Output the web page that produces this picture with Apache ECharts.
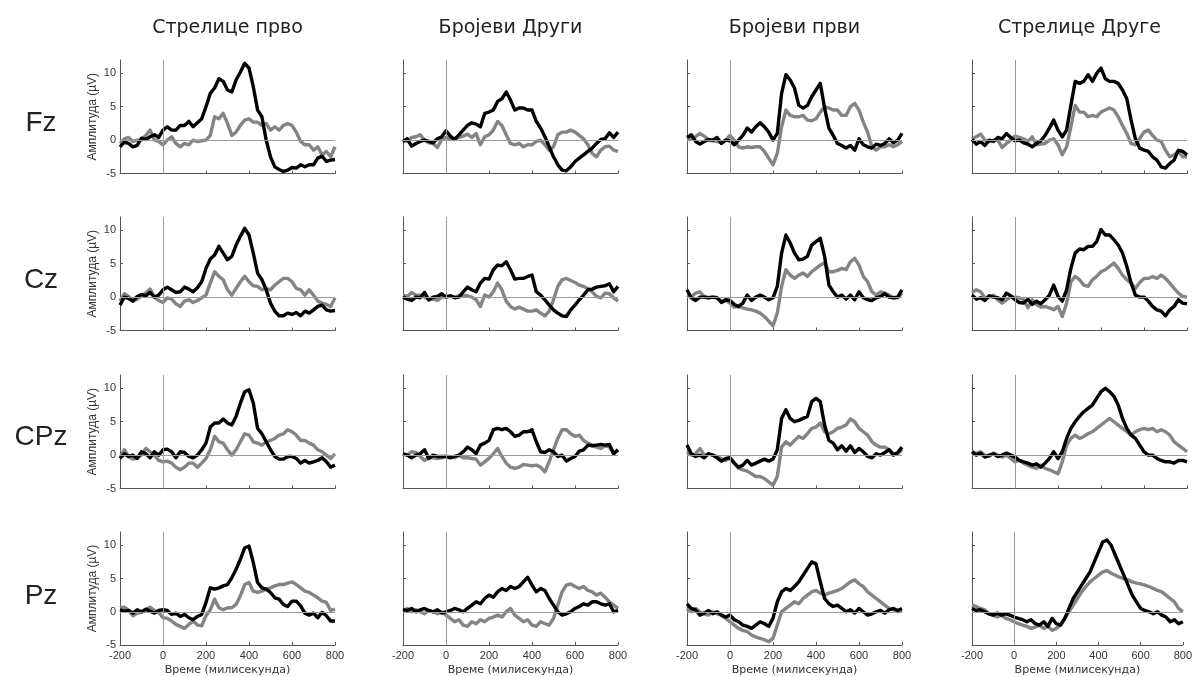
<!DOCTYPE html>
<html>
<head>
<meta charset="utf-8">
<script src="https://cdn.jsdelivr.net/npm/echarts@6/dist/echarts.min.js"></script>
<style>
html,body{margin:0;padding:0;background:#fff;}
#chart{width:1195px;height:677px;}
</style>
</head>
<body>
<div id="chart"></div>
<script>
// Time axis (ms), one sample every 20 ms
const times = [-200,-180,-160,-140,-120,-100,-80,-60,-40,-20,0,20,40,60,80,100,120,140,160,180,200,220,240,260,280,300,320,340,360,380,400,420,440,460,480,500,520,540,560,580,600,620,640,660,680,700,720,740,760,780,800];
const columnTitles = ['Стрелице прво','Бројеви Други','Бројеви први','Стрелице Друге'];
const rowLabels = ['Fz','Cz','CPz','Pz'];
const xTicks = [-200,0,200,400,600,800];
const yTicks = [-5,0,5,10];

// Fz
const fzC1Black = [-1,-0.3,-0.5,-1,-0.8,0.3,0.1,0.5,0.8,0.4,1.5,2,1.5,1.5,2.2,2.2,2.8,2,2.6,3.2,5,7,7.8,9.2,8.8,7.5,7.2,9,10.2,11.5,10.8,8,4.5,3.5,0,-2.5,-4,-4.4,-4.7,-4.5,-4.1,-4.2,-3.7,-4,-3.7,-3.7,-2.7,-2.4,-3.2,-3,-2.9];
const fzC1Gray = [-0.5,0.2,0.4,-0.2,0,0,0.7,1.5,0,-0.2,-0.7,0,0.5,-0.5,-1,-0.5,-0.7,0,-0.2,-0.1,0,0.7,3.5,3.2,4,2.5,0.7,1.2,2.2,3,3.2,2.7,2.7,2.2,2.5,1.5,2,1.5,2.2,2.5,2.2,1.2,-0.2,-0.7,-0.7,-1.5,-1,-2.2,-1.7,-2.5,-1];
const fzC2Black = [-0.2,0.2,-0.9,-0.5,-0.2,0,-0.2,-0.4,0.2,0.5,1.4,0.6,0.1,0.8,1.5,2.2,2.6,2.4,2,4,4.2,4.5,5.8,6.2,7.2,6,4.5,4.8,4.8,4.5,4.5,2.8,1.8,0.5,-1,-2.5,-3.7,-4.5,-4.6,-4,-3.2,-2.7,-2.2,-1.7,-1.2,-0.5,0.1,0.2,1.1,0.4,1.2];
const fzC2Gray = [0,-0.2,0.4,0.5,0.8,0,-0.4,-0.5,-1.1,0.1,0.4,0.2,0.2,0.4,0.6,0.9,0.4,1,-0.7,0.5,0.8,1.5,2.8,2.2,0.8,-0.5,-0.7,-0.5,-1,-0.7,-0.7,-0.2,0,-0.7,-1.5,-1,0.8,1.2,1.2,1.5,1.2,0.7,0.2,-0.7,-2,-2.5,-1.5,-1,-0.9,-1.5,-1.7];
const fzC3Black = [0.4,0.8,-0.2,-0.6,-0.2,0.1,0,0.4,-0.5,0,-0.1,-0.7,0,0.7,1.8,1.2,2,2.6,2,1.2,0,1,7,9.8,9,7.8,5.2,4.8,5.2,6.5,7.5,8.5,4.8,1.8,0.7,-0.5,-0.8,-1.2,-0.8,-1.5,0.2,-0.7,-1,-1.2,-0.6,-0.8,-0.5,0.2,-0.4,0,1];
const fzC3Gray = [0.2,0.2,0.5,1,0.6,0,-0.1,-0.2,-0.4,0,0.7,0,-1,-1.2,-1,-1.1,-1,-1,-1.7,-2.7,-3.7,-2,2,4.5,3.7,3.5,3.5,3.7,3,2.9,3.2,4.2,5,4.8,4.5,4.5,3.7,3.7,5,5.5,4.5,2.7,1.2,-1,-1.5,-1,-1,-0.7,-1,-0.7,-0.2];
const fzC4Black = [0.1,-0.6,-0.2,-0.8,0,-0.2,0.4,0.2,1,0.4,-0.1,0,-0.4,-0.6,-1,-0.5,-0.1,0.7,1.8,3,1.5,0.5,1.5,5.2,8.8,8.5,8.8,9.8,8.8,10,10.8,9.2,8.8,8.8,8.5,7.5,6.2,3,0.2,-1.2,-1.5,-1.7,-2.5,-3,-4,-4.2,-3.5,-3,-1.5,-1.7,-2.2];
const fzC4Gray = [0.2,0.5,0.9,0,-0.2,0,0,-1.1,-0.5,0,0.6,0.4,0.2,-0.2,0.5,-0.7,-0.6,-0.5,0,0.2,-0.7,-2.2,-1,2,5.2,4.2,4.2,3.5,3.7,3.5,4.2,4.5,4.8,4.5,3.5,2.2,1,-0.5,-0.7,0.2,1.2,1.5,0.7,0,-0.2,-1.5,-2.5,-2.2,-1.7,-2.5,-2.5];

// Cz
const czC1Black = [-1.2,0,-0.2,-0.6,0.1,0.4,0.2,0.7,0,0.3,1.1,1.5,1.1,0.7,0.8,1.5,1.2,0.8,1.4,2.3,4.3,5.7,6.3,7.6,6.6,5.6,6.1,7.8,9.1,10.3,9.3,6.6,3.6,2.6,1.1,-0.9,-2.1,-2.8,-2.8,-2.4,-2.6,-2.3,-2.8,-2.1,-2.4,-1.9,-1.4,-1.2,-1.9,-2.1,-2];
const czC1Gray = [-0.6,0.5,0.1,-0.6,-0.3,0.2,0.6,1.2,0,-0.5,-0.8,-0.1,-0.3,-1,-1.4,-0.6,-0.4,-0.8,-0.5,-0.1,0.3,2.1,3.8,3.1,2.6,1.1,0.3,1.3,2.3,3.1,2.3,1.7,1.6,1.1,1.3,1.1,1.8,2.3,2.8,2.8,2.3,1.3,1.1,0.3,1.1,0.3,-0.6,-0.9,-1.1,-1.4,-0.1];
const czC2Black = [0,-0.3,-0.5,0,-0.1,0.7,-0.4,0,0.1,0.5,0,0.2,-0.1,0,0.8,1.5,1.1,0.8,2.1,2.8,2.7,4.1,4.8,4.7,5.3,4.1,2.7,2.8,2.8,3.1,3.3,0.8,0.3,-0.4,-1.2,-1.9,-2.4,-2.8,-2.9,-1.9,-1.2,-0.4,0.3,1.1,1.2,1.5,1.6,1.7,2,0.8,1.6];
const czC2Gray = [0.3,0.1,0.7,0.3,0.3,0,-0.4,-0.3,-0.5,0,0,0.2,0,0.2,0.3,0.2,0,-0.4,-1.4,0.3,0,0.8,2.1,1.1,-0.6,-1.4,-1.8,-1.5,-1.8,-2.1,-2.1,-1.9,-2.4,-2.8,-2.1,-0.4,1.6,2.6,2.8,2.5,2.2,1.8,1.6,1.3,0.8,0.1,-0.1,0.6,0.5,-0.1,-0.6];
const czC3Black = [1.1,-0.1,-0.5,0,0,-0.1,0,-0.1,-0.8,-0.4,-0.5,-1.1,-1.4,-0.9,0.3,-0.5,0,0.3,0,-0.4,-0.1,1.6,6.6,9.3,8.1,6.6,5.6,5.7,6.1,7.8,8.3,8.8,6.1,1.8,0.8,0,0.3,-0.3,0.3,-0.4,0.8,-0.1,-0.4,-0.5,-0.1,0.1,0.5,0,-0.1,0,1.1];
const czC3Gray = [0.3,0,0.6,0.8,0.1,-0.1,0,-0.1,-0.6,-0.5,-0.9,-1.5,-1.4,-1.6,-1.8,-1.9,-2.1,-2.4,-2.9,-3.6,-4.3,-2.4,1.6,4.1,3.3,2.8,3.3,3.6,3.1,3.8,4.3,4.8,5.1,3.8,3.8,4,4.3,4.1,5.3,5.8,4.8,3.1,2.3,0.8,0.3,0.8,0.6,0.3,-0.1,-0.1,0.6];
const czC4Black = [0.3,-0.3,-0.1,-0.5,0.2,0,-0.1,-0.4,0.6,0.2,-0.4,-0.8,-0.9,-0.3,-1.1,-0.6,-1,-0.4,0.3,1.8,0.1,-0.6,1.1,4.3,6.6,7.2,7.1,7.6,7.6,8.3,10.1,9.3,9.3,8.6,7.8,6.6,4.6,2.1,0.3,0,0,-0.6,-1.4,-1.9,-2.1,-2.8,-1.9,-1.4,-0.4,-0.9,-1];
const czC4Gray = [0.7,1.1,0.8,-0.1,0,0.3,-0.4,-0.9,-0.4,0,0,-0.1,-0.4,-1.6,-0.4,-1.1,-1.5,-1.4,-1.6,-1.9,-1.4,-2.9,-0.9,2.3,3.1,2.6,1.8,1.6,2.6,3.1,3.8,4.1,4.6,5.1,4.3,3.3,2.6,2.1,1.3,2.2,2.8,2.8,3.1,2.8,3.3,2.8,2.1,1.3,0.6,0.1,0];

// CPz
const cpzC1Black = [-0.5,0.2,-0.2,0,-0.5,0.5,0.2,-0.4,0.5,0,0.8,0.9,0.5,-0.4,0.5,0.4,-0.2,-0.4,0,0.8,1.8,4.2,4.8,4.8,5.4,4.8,4.5,5.8,7.8,9.5,9.8,7.8,4,3.2,2,0.8,-0.2,-0.6,-0.6,-0.2,-0.2,-0.5,-1.2,-0.8,-1.2,-1,-0.8,-0.4,-1,-1.8,-1.5];
const cpzC1Gray = [-0.4,0.8,-0.2,-0.6,-0.4,0,1,0.5,0,-0.8,-1,-0.9,-1.2,-1.8,-2.2,-1.8,-1.2,-1.2,-1.8,-1.2,-0.5,0.8,2.8,2,1.8,0.8,0,0.8,2,3.2,3,2,1.8,1.5,2,2.2,2.5,3,3.2,3.8,3.5,3,2.2,2.2,1.8,1.5,0.8,0.5,0,-0.5,0.2];
const cpzC2Black = [0.2,0,-0.4,0,0.2,0.8,-0.5,0,-0.2,-0.2,-0.2,-0.4,-0.2,0,0.5,1.2,0.8,0.2,1.5,1.8,2.2,3.8,4,3.8,4,3.5,2.8,3,3.5,3.5,3.8,2,0.5,0.4,0.8,0.5,-0.2,0,-0.9,-0.5,-0.2,0.6,0.8,1.5,1.4,1.5,1.6,1.5,1.6,0.2,0.8];
const cpzC2Gray = [0.2,0,0.5,0.4,-0.2,-0.8,-0.4,-0.4,-0.5,-0.4,-0.2,-0.2,-0.4,0,-0.4,-0.4,-0.5,-0.6,-1.5,-1,-0.5,0.2,1,-0.2,-1.2,-1.8,-2,-1.8,-1.4,-1.5,-1.6,-1.5,-1.8,-2.5,-1,0.8,2.5,3.8,3.8,3.2,2.8,3,2.2,1.8,1.5,1.2,1,1.4,1.2,0.2,0.8];
const cpzC3Black = [1.5,0.2,-0.2,0,-0.4,0.2,0,-0.4,-0.9,-0.5,-0.4,-1.2,-1.8,-1.5,-0.8,-1.5,-1.2,-0.9,-0.6,-0.9,-0.6,0.8,5.5,6.8,5.5,5,5.2,5.5,5.8,8,8.5,8,4.5,2.2,1.8,0.8,1.4,0.6,1.4,0.4,1,0.5,-0.2,-0.4,0.2,0,0.4,0.8,0,0.4,1.2];
const cpzC3Gray = [0.5,0,0.2,1,0,0.2,0,-0.2,-0.5,-0.8,-0.4,-1.2,-2,-2.2,-2.4,-2.8,-3.2,-3.2,-3.5,-4,-4.5,-3.2,1.2,2,1.5,2.2,2.8,2.5,3.2,4,4.2,4.8,3.5,3.2,3.5,4,4.2,4.5,5.4,5,4,3.5,3,2,1.5,1.2,1.2,0.8,0.2,0.2,0.8];
const cpzC4Black = [0.5,0,0.3,-0.3,0,0.2,-0.2,0,0.3,0,-0.3,-0.8,-1,-1.2,-1.5,-1.3,-1.8,-1.2,-0.5,0.5,-0.5,0.5,2.5,4,5,5.8,6.5,7,7.5,8.5,9.5,10,9.5,8.8,7.5,5.5,4,3,2.5,1.5,0.5,0,0,-0.5,-0.8,-1,-1,-1.2,-0.8,-0.8,-1];
const cpzC4Gray = [0.5,0.3,0.5,0,-0.2,0.3,0,-0.3,0,-0.5,-1,-0.8,-1.2,-1.5,-1.8,-2,-1.5,-2,-2.2,-2.5,-2.8,-1,1.5,2.5,3,2.5,2.8,3.2,3.5,4,4.5,5,5.5,5,4.5,4,3.5,3,3.5,3.8,4,3.8,4,3.5,3.8,3.5,3,2,1.5,1,0.5];

// Pz
const pzC1Black = [0.3,0.1,0.2,-0.2,0.3,0,0.4,0.1,-0.2,0.2,0.3,0.2,-0.4,-0.2,-0.7,-0.4,-0.9,-1.2,-0.7,-0.4,1.4,3.6,3.4,3.6,3.9,4.1,5.1,6.4,7.9,9.6,9.9,7.4,4.4,3.6,3.4,2.9,2.1,1.9,1.1,0.8,1.6,1.6,0.9,-0.2,-0.5,-0.2,-0.9,-0.1,-0.6,-1.4,-1.4];
const pzC1Gray = [0.6,0.7,0.2,-0.6,-0.2,-0.1,0.3,0.7,0.2,-0.1,-0.9,-1,-1.4,-1.9,-2.2,-2.5,-1.9,-1.4,-2,-2.1,-0.6,0.3,1.9,0.6,0.3,0.6,0.6,1.1,2.4,4.1,4.4,3.1,2.9,3.1,3.4,3.6,3.9,4.1,4.1,4.3,4.5,4.1,3.6,3.1,2.9,2.5,2.1,1.6,1.4,0.2,0.4];
const pzC2Black = [0.3,0.2,0.5,0,0.3,0.5,0.2,0,0.3,-0.2,0,0.2,0.5,0.3,0,0.5,1,1.5,1.2,2,2.5,2.2,3,3.5,3.2,3.8,3.5,3.8,4.5,5.2,4,3,3.5,3.2,2,1,0,-0.5,-0.3,0,0.5,0.8,1.2,1,1.5,1.5,1.2,1,1.2,0,0.2];
const pzC2Gray = [0.2,0.5,0,0.3,0,-0.3,0.2,0,-0.3,0,-0.5,-1,-1.5,-1.2,-2,-2.2,-1.5,-1.8,-1.2,-1.5,-1,-0.8,-0.5,-0.8,0,0.5,-0.5,-1,-1.5,-1.2,-2,-2.2,-1.5,-1.8,-2,-1,1,3,4,4.2,3.8,3.5,3.8,3.2,3,2.5,2.8,2.2,1.5,1,0.5];
const pzC3Black = [1.2,0.5,0.3,-0.5,-0.2,0.2,-0.3,0,-0.5,-0.8,-0.5,-1.2,-1.5,-2,-2.2,-2.5,-2,-1.5,-1.8,-2.2,-1,1.5,3,3.5,3.2,3.8,4.5,5.5,6.5,7.5,7.2,4.5,2,1.2,0.8,1,0.5,0,0.3,-0.2,0.5,0,-0.5,-0.3,0,0.2,-0.2,0.3,0.5,0.2,0.5];
const pzC3Gray = [0.5,0,0.5,0,-0.3,-0.5,0,-0.3,-0.5,-1,-1.5,-2,-2.5,-2.8,-3,-3.5,-3.8,-4,-4.2,-4.5,-4,-2,0,0.5,1,1.5,1.2,2,2.5,3,3.2,2.8,2.5,2.8,3,3.2,3.5,4,4.5,4.8,4.2,3.8,3,2.5,2,1.5,1,0.5,0.3,0,0.2];
const pzC4Black = [0.5,0.2,0.3,0,-0.3,-0.5,-0.2,-0.5,-0.3,-0.5,-0.8,-1,-1.2,-1.5,-1.2,-1.8,-2,-1.5,-2.2,-1,-1.8,-2,-1,0.5,2,3,4,5,6,7.5,9,10.5,10.8,10,8.5,7,5.5,4,2.5,1.5,0.5,0.2,0,-0.3,0,-0.5,-0.8,-1.5,-1.2,-1.8,-1.5];
const pzC4Gray = [1,0.8,0.5,0.3,-0.3,-0.5,-0.8,-0.5,-1,-1.2,-1.5,-1.8,-2,-2.2,-2.5,-2.3,-2,-2.5,-2.2,-2.8,-2.5,-2,-1,0,1,2,3,3.8,4.5,5,5.5,6,6.2,5.8,5.5,5.2,5,4.8,4.5,4.3,4.2,4,3.8,3.5,3.2,3,2.5,2,1.5,0.5,0];

const panelData = [
  [[fzC1Black,fzC1Gray],[fzC2Black,fzC2Gray],[fzC3Black,fzC3Gray],[fzC4Black,fzC4Gray]],
  [[czC1Black,czC1Gray],[czC2Black,czC2Gray],[czC3Black,czC3Gray],[czC4Black,czC4Gray]],
  [[cpzC1Black,cpzC1Gray],[cpzC2Black,cpzC2Gray],[cpzC3Black,cpzC3Gray],[cpzC4Black,cpzC4Gray]],
  [[pzC1Black,pzC1Gray],[pzC2Black,pzC2Gray],[pzC3Black,pzC3Gray],[pzC4Black,pzC4Gray]]
];

// Layout
const colLeft = [120, 403, 687, 972];
const rowTop = [60, 217, 375, 532];
const gridW = 215, gridH = 113.5;
const axisColor = '#555';
const tickFont = 'Liberation Sans, Arial, sans-serif';
const wideFont = 'DejaVu Sans, Verdana, sans-serif';

const grids = [], xAxes = [], yAxes = [], series = [], graphics = [];
for (let r = 0; r < 4; r++) {
  for (let c = 0; c < 4; c++) {
    const g = r * 4 + c;
    grids.push({left: colLeft[c], top: rowTop[r], width: gridW, height: gridH});
    xAxes.push({
      gridIndex: g, type: 'value', min: -200, max: 800, interval: 200,
      axisLine: {show: true, onZero: false, lineStyle: {color: axisColor, width: 1}},
      axisTick: {show: true, inside: true, length: 3, lineStyle: {color: axisColor}},
      axisLabel: {show: r === 3, fontSize: 11, color: '#333', margin: 5, fontFamily: tickFont, customValues: xTicks},
      splitLine: {show: false},
      name: r === 3 ? 'Време (милисекунда)' : '',
      nameLocation: 'middle', nameGap: 20,
      nameTextStyle: {fontSize: 11, color: '#333', fontFamily: wideFont}
    });
    yAxes.push({
      gridIndex: g, type: 'value', min: -5, max: 12,
      axisLine: {show: true, onZero: false, lineStyle: {color: axisColor, width: 1}},
      axisTick: {show: true, inside: true, length: 3, lineStyle: {color: axisColor}, customValues: yTicks},
      axisLabel: {show: c === 0, fontSize: 11, color: '#333', margin: 4, fontFamily: tickFont, customValues: yTicks},
      splitLine: {show: false},
      name: c === 0 ? 'Амплитуда (µV)' : '',
      nameLocation: 'middle', nameGap: 21, nameRotate: 90,
      nameTextStyle: {fontSize: 12, color: '#333', fontFamily: tickFont}
    });
    // reference lines at t = 0 and amplitude = 0
    series.push({
      type: 'line', xAxisIndex: g, yAxisIndex: g, data: [], z: 1, silent: true,
      markLine: {
        silent: true, symbol: 'none', label: {show: false}, animation: false,
        lineStyle: {color: '#9a9a9a', width: 1, type: 'solid'},
        data: [{xAxis: 0}, {yAxis: 0}]
      }
    });
    const [blk, gry] = panelData[r][c];
    series.push({
      type: 'line', xAxisIndex: g, yAxisIndex: g, z: 2,
      data: times.map((t, i) => [t, gry[i]]),
      showSymbol: false, smooth: false, animation: false,
      lineStyle: {color: '#848484', width: 3.4, join: 'round'}
    });
    series.push({
      type: 'line', xAxisIndex: g, yAxisIndex: g, z: 3,
      data: times.map((t, i) => [t, blk[i]]),
      showSymbol: false, smooth: false, animation: false,
      lineStyle: {color: '#000', width: 3.4, join: 'round'}
    });
  }
}
for (let c = 0; c < 4; c++) {
  graphics.push({type: 'text', x: colLeft[c] + gridW / 2, y: 28,
    style: {text: columnTitles[c], font: '19px ' + wideFont, fill: '#222', textAlign: 'center', textVerticalAlign: 'middle'}});
}
const rowLabelY = [123, 280, 437, 596];
for (let r = 0; r < 4; r++) {
  graphics.push({type: 'text', x: 41, y: rowLabelY[r],
    style: {text: rowLabels[r], font: '28px ' + tickFont, fill: '#222', textAlign: 'center', textVerticalAlign: 'middle'}});
}

const chart = echarts.init(document.getElementById('chart'), null, {renderer: 'canvas'});
chart.setOption({
  animation: false,
  backgroundColor: '#fff',
  grid: grids, xAxis: xAxes, yAxis: yAxes, series: series, graphic: graphics
});
</script>
</body>
</html>
